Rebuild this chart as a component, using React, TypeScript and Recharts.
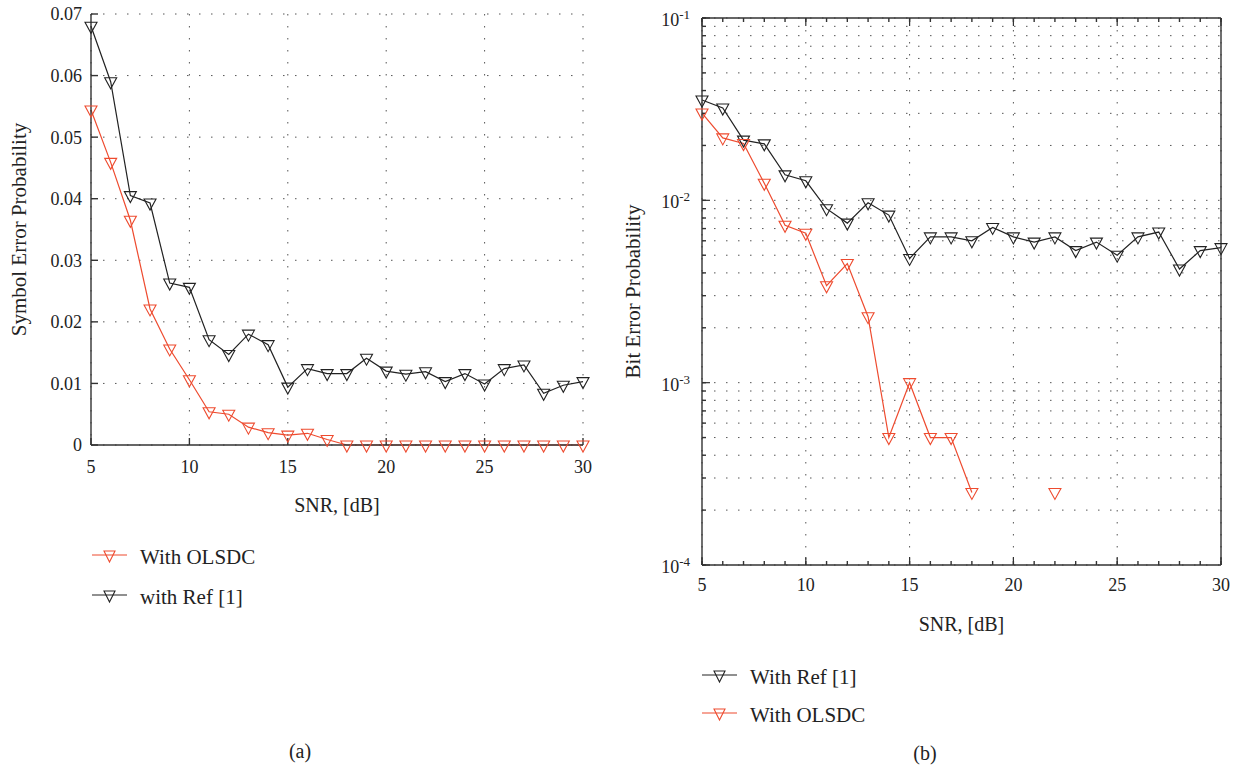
import React from "react";
import { LineChart, Line, XAxis, YAxis, CartesianGrid, Legend, Label } from "recharts";

// SNR axis, dB
const snr = [5, 6, 7, 8, 9, 10, 11, 12, 13, 14, 15, 16, 17, 18, 19, 20, 21, 22, 23, 24, 25, 26, 27, 28, 29, 30];

// (a) symbol error probability
const serRef = [0.068, 0.059, 0.0405, 0.0393, 0.0263, 0.0256, 0.0171, 0.0147, 0.018, 0.0163, 0.0094, 0.0124, 0.0116, 0.0116, 0.0141, 0.012, 0.0115, 0.0119, 0.0103, 0.0116, 0.0099, 0.0124, 0.013, 0.0084, 0.0097, 0.0103];
const serOlsdc = [0.0544, 0.0459, 0.0365, 0.0221, 0.0156, 0.0106, 0.0054, 0.005, 0.0029, 0.002, 0.0016, 0.0019, 0.0009, 0, 0, 0, 0, 0, 0, 0, 0, 0, 0, 0, 0, 0];

// (b) bit error probability (null = zero errors, not drawn on log axis)
const berRef = [0.0355, 0.0321, 0.0214, 0.0204, 0.0138, 0.0128, 0.009, 0.0075, 0.0097, 0.0083, 0.0048, 0.0063, 0.0063, 0.006, 0.0071, 0.0063, 0.0059, 0.0063, 0.0053, 0.0059, 0.005, 0.0063, 0.0067, 0.0042, 0.0053, 0.0055];
const berOlsdc = [0.0301, 0.022, 0.0205, 0.0124, 0.0073, 0.0066, 0.0034, 0.0045, 0.0023, 0.0005, 0.001, 0.0005, 0.0005, 0.00025, null, null, null, 0.00025, null, null, null, null, null, null, null, null];

const snrMajor = [5, 10, 15, 20, 25, 30];
const serTicks = [0, 0.01, 0.02, 0.03, 0.04, 0.05, 0.06, 0.07];
const berTicks = [
  0.0001, 0.0002, 0.0003, 0.0004, 0.0005, 0.0006, 0.0007, 0.0008, 0.0009,
  0.001, 0.002, 0.003, 0.004, 0.005, 0.006, 0.007, 0.008, 0.009,
  0.01, 0.02, 0.03, 0.04, 0.05, 0.06, 0.07, 0.08, 0.09,
  0.1,
];

const serData = snr.map((s, i) => ({ snr: s, ref: serRef[i], olsdc: serOlsdc[i] }));
const berData = snr.map((s, i) => ({ snr: s, ref: berRef[i], olsdc: berOlsdc[i] }));

const RED = "#ee4b2f";
const BLACK = "#222222";
const AXIS = "#333333";
const GRID = "#555555";
const TEXT = "#222222";
const FONT = '"Liberation Serif", "DejaVu Serif", serif';

const tri = (cx: number, cy: number, w = 6, up = 4, down = 7) =>
  `${cx - w},${cy - up} ${cx + w},${cy - up} ${cx},${cy + down}`;

const makeDot = (color: string) => (props: any) => {
  const { cx, cy, index, value } = props;
  if (value == null || !Number.isFinite(cx) || !Number.isFinite(cy)) return <g key={`d${index}`} />;
  return <polygon key={`d${index}`} points={tri(cx, cy)} fill="none" stroke={color} strokeWidth={1.1} />;
};

const makeLegend = (order: string[], rowH: number) => (props: any) => {
  const items = order
    .map((n) => (props.payload || []).find((p: any) => p.value === n))
    .filter(Boolean);
  return (
    <div style={{ fontFamily: FONT }}>
      {items.map((it: any) => (
        <div key={it.value} style={{ display: "flex", alignItems: "center", height: rowH }}>
          <svg width={36} height={20} style={{ overflow: "visible" }}>
            <line x1={0} y1={8} x2={35} y2={8} stroke={it.color} strokeWidth={1.2} />
            <polygon points={tri(17.5, 8, 5.5, 4, 7)} fill="none" stroke={it.color} strokeWidth={1.1} />
          </svg>
          <span style={{ marginLeft: 12, fontSize: 21, color: TEXT }}>{it.value}</span>
        </div>
      ))}
    </div>
  );
};

// right panel tick geometry (inward minor ticks, longer major ticks)
const MINOR = -4;
const MAJOR = 8;
const BX_M = 17;
const LY_M = 16;
const EDGE_M = 6;

const isDecade = (v: number) => Math.abs(Math.log10(v) - Math.round(Math.log10(v))) < 1e-6;

const BottomTick = (p: any) => {
  const v = p.payload.value;
  const major = v % 5 === 0;
  const axisY = p.y - BX_M - MINOR;
  return (
    <g>
      {major && <line x1={p.x} x2={p.x} y1={axisY} y2={axisY - MAJOR} stroke={AXIS} strokeWidth={1.2} />}
      {major && (
        <text x={p.x} y={p.y} dy="0.71em" textAnchor="middle" fontSize={18} fill={TEXT}>
          {v}
        </text>
      )}
    </g>
  );
};

const TopTick = (p: any) => {
  const v = p.payload.value;
  if (v % 5 !== 0) return <g />;
  const axisY = p.y + EDGE_M + MINOR;
  return <line x1={p.x} x2={p.x} y1={axisY} y2={axisY + MAJOR} stroke={AXIS} strokeWidth={1.2} />;
};

const LeftLogTick = (p: any) => {
  const v = p.payload.value;
  if (!isDecade(v)) return <g />;
  const axisX = p.x + LY_M + MINOR;
  const exp = Math.round(Math.log10(v));
  return (
    <g>
      <line x1={axisX} x2={axisX + MAJOR} y1={p.y} y2={p.y} stroke={AXIS} strokeWidth={1.2} />
      <text x={p.x} y={p.y + 8} textAnchor="end" fontSize={18} fill={TEXT}>
        10
        <tspan dy={-7} fontSize={13}>{`-${Math.abs(exp)}`}</tspan>
      </text>
    </g>
  );
};

const RightLogTick = (p: any) => {
  const v = p.payload.value;
  if (!isDecade(v)) return <g />;
  const axisX = p.x - EDGE_M - MINOR;
  return <line x1={axisX} x2={axisX - MAJOR} y1={p.y} y2={p.y} stroke={AXIS} strokeWidth={1.2} />;
};

const SerChart = () => (
  <LineChart width={600} height={771} data={serData} margin={{ top: 14, right: 17, left: 0, bottom: 300 }}>
    <CartesianGrid stroke={GRID} strokeDasharray="1.5 10.5" />
    <XAxis
      dataKey="snr"
      type="number"
      domain={[5, 30]}
      ticks={snrMajor}
      height={26}
      tickSize={-7}
      tickMargin={22}
      stroke={AXIS}
      strokeWidth={1.4}
      tick={{ fill: TEXT, fontSize: 18 }}
    >
      <Label value="SNR, [dB]" position="bottom" offset={27} fill={TEXT} fontSize={20} />
    </XAxis>
    <YAxis
      type="number"
      domain={[0, 0.07]}
      ticks={serTicks}
      width={91}
      tickSize={-7}
      tickMargin={16}
      stroke={AXIS}
      strokeWidth={1.4}
      tick={{ fill: TEXT, fontSize: 18 }}
      tickFormatter={(v: number) => (v === 0 ? "0" : v.toFixed(2))}
    >
      <Label value="Symbol Error Probability" angle={-90} position="insideLeft" offset={19} fill={TEXT} fontSize={21} style={{ textAnchor: "middle" }} />
    </YAxis>
    <Legend
      layout="vertical"
      align="center"
      verticalAlign="middle"
      content={makeLegend(["With OLSDC", "with Ref [1]"], 40)}
      wrapperStyle={{ left: 92, top: 537, width: 260 }}
    />
    <Line dataKey="olsdc" name="With OLSDC" stroke={RED} strokeWidth={1.2} dot={makeDot(RED)} activeDot={false} isAnimationActive={false} />
    <Line dataKey="ref" name="with Ref [1]" stroke={BLACK} strokeWidth={1.2} dot={makeDot(BLACK)} activeDot={false} isAnimationActive={false} />
  </LineChart>
);

const BerChart = () => (
  <LineChart width={642} height={771} data={berData} margin={{ top: 17, right: 20, left: 0, bottom: 180 }}>
    <CartesianGrid xAxisId="grid" yAxisId="left" stroke={GRID} strokeDasharray="1.5 10.5" />
    <XAxis xAxisId="grid" dataKey="snr" type="number" domain={[5, 30]} ticks={snrMajor} hide />
    <XAxis
      xAxisId="b"
      dataKey="snr"
      type="number"
      domain={[5, 30]}
      ticks={snr}
      interval={0}
      height={26}
      tickSize={MINOR}
      tickMargin={BX_M}
      stroke={AXIS}
      strokeWidth={1.4}
      tick={(p: any) => <BottomTick {...p} />}
    >
      <Label value="SNR, [dB]" position="bottom" offset={26} fill={TEXT} fontSize={20} />
    </XAxis>
    <XAxis
      xAxisId="top"
      orientation="top"
      dataKey="snr"
      type="number"
      domain={[5, 30]}
      ticks={snr}
      interval={0}
      height={1}
      tickSize={MINOR}
      tickMargin={EDGE_M}
      stroke={AXIS}
      strokeWidth={1.4}
      tick={(p: any) => <TopTick {...p} />}
    />
    <YAxis
      yAxisId="left"
      type="number"
      scale="log"
      domain={[0.0001, 0.1]}
      ticks={berTicks}
      interval={0}
      width={102}
      tickSize={MINOR}
      tickMargin={LY_M}
      stroke={AXIS}
      strokeWidth={1.4}
      tick={(p: any) => <LeftLogTick {...p} />}
    >
      <Label value="Bit Error Probability" angle={-90} position="insideLeft" offset={33} fill={TEXT} fontSize={21} style={{ textAnchor: "middle" }} />
    </YAxis>
    <YAxis
      yAxisId="right"
      orientation="right"
      type="number"
      scale="log"
      domain={[0.0001, 0.1]}
      ticks={berTicks}
      interval={0}
      width={1}
      tickSize={MINOR}
      tickMargin={EDGE_M}
      stroke={AXIS}
      strokeWidth={1.4}
      tick={(p: any) => <RightLogTick {...p} />}
    />
    <Legend
      layout="vertical"
      align="center"
      verticalAlign="middle"
      content={makeLegend(["With Ref [1]", "With OLSDC"], 38)}
      wrapperStyle={{ left: 102, top: 658, width: 260 }}
    />
    <Line xAxisId="b" yAxisId="left" dataKey="ref" name="With Ref [1]" stroke={BLACK} strokeWidth={1.2} dot={makeDot(BLACK)} activeDot={false} isAnimationActive={false} />
    <Line xAxisId="b" yAxisId="left" dataKey="olsdc" name="With OLSDC" stroke={RED} strokeWidth={1.2} dot={makeDot(RED)} activeDot={false} isAnimationActive={false} />
  </LineChart>
);

export default function App() {
  return (
    <div style={{ position: "absolute", left: 0, top: 0, width: 1242, height: 771, background: "#fff", fontFamily: FONT }}>
      <div style={{ position: "absolute", left: 0, top: 0 }}>
        <SerChart />
      </div>
      <div style={{ position: "absolute", left: 600, top: 0 }}>
        <BerChart />
      </div>
      <div style={{ position: "absolute", left: 280, top: 740, width: 40, textAlign: "center", fontSize: 20, color: TEXT }}>(a)</div>
      <div style={{ position: "absolute", left: 905, top: 742, width: 40, textAlign: "center", fontSize: 20, color: TEXT }}>(b)</div>
    </div>
  );
}
